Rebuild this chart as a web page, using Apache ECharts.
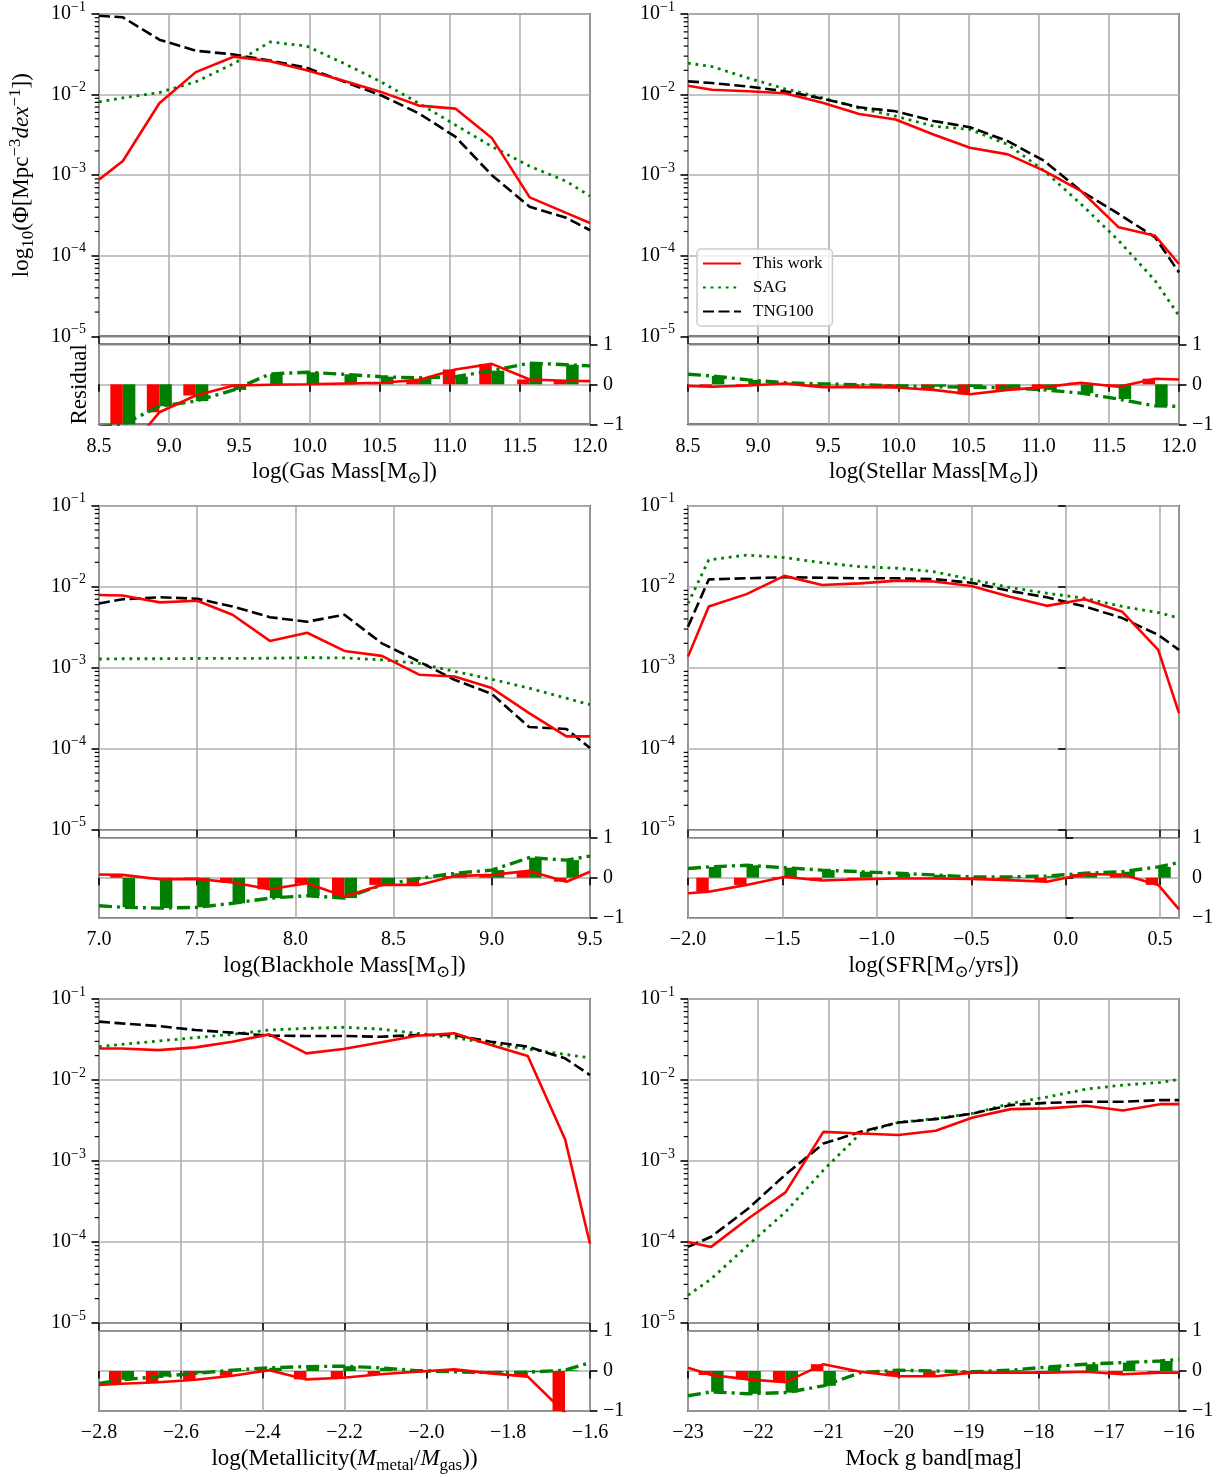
<!DOCTYPE html>
<html>
<head>
<meta charset="utf-8">
<title>Distribution functions</title>
<script src="https://cdn.jsdelivr.net/npm/echarts@6/dist/echarts.min.js"></script>
<style>
  html, body { margin: 0; padding: 0; background: #fff; }
  #chart { width: 1227px; height: 1477px; }
</style>
</head>
<body>
<div id="chart"></div>
<script>
// values: x = bin centres (plus the axis ends), y = number density
// residual = log10(model / TNG100)

// gas mass
const gasX = [8.5, 8.67, 8.93, 9.19, 9.46, 9.72, 9.98, 10.25, 10.51, 10.78, 11.04, 11.30, 11.57, 11.83, 12.0]
const gasThisWork = [8.8e-4, 1.5e-3, 7.8e-3, 1.9e-2, 2.95e-2, 2.6e-2, 2.0e-2, 1.47e-2, 1.08e-2, 7.3e-3, 6.7e-3, 2.9e-3, 5.3e-4, 3.4e-4, 2.55e-4]
const gasSAG = [8.1e-3, 9.1e-3, 1.06e-2, 1.44e-2, 2.42e-2, 4.5e-2, 4.0e-2, 2.42e-2, 1.44e-2, 7.8e-3, 4.2e-3, 2.27e-3, 1.29e-3, 8.4e-4, 5.5e-4]
const gasTNG = [9.5e-2, 9.1e-2, 4.8e-2, 3.5e-2, 3.15e-2, 2.65e-2, 2.15e-2, 1.44e-2, 9.8e-3, 5.85e-3, 3.0e-3, 1.0e-3, 4.05e-4, 2.96e-4, 2.07e-4]
const gasResThis = [-2.0, -1.8, -0.7, -0.28, -0.03, -0.01, 0.0, 0.02, 0.04, 0.11, 0.37, 0.51, 0.12, 0.09, 0.08]
const gasResSAG = [-1.07, -1.0, -0.55, -0.42, -0.14, 0.26, 0.3, 0.25, 0.19, 0.16, 0.19, 0.34, 0.53, 0.49, 0.46]
const gasTicks = [8.5, 9.0, 9.5, 10.0, 10.5, 11.0, 11.5, 12.0]

// stellar mass
const stellarX = [8.5, 8.67, 8.93, 9.19, 9.46, 9.72, 9.98, 10.25, 10.51, 10.78, 11.04, 11.30, 11.57, 11.83, 12.0]
const stellarThisWork = [1.29e-2, 1.15e-2, 1.1e-2, 1.04e-2, 7.9e-3, 5.75e-3, 4.9e-3, 3.2e-3, 2.19e-3, 1.81e-3, 1.13e-3, 6.4e-4, 2.25e-4, 1.77e-4, 7.9e-5]
const stellarSAG = [2.45e-2, 2.23e-2, 1.6e-2, 1.18e-2, 9.1e-3, 6.8e-3, 5.4e-3, 4.05e-3, 3.7e-3, 2.4e-3, 1.13e-3, 4.4e-4, 1.54e-4, 4.9e-5, 1.8e-5]
const stellarTNG = [1.46e-2, 1.39e-2, 1.26e-2, 1.1e-2, 8.9e-3, 6.95e-3, 6.2e-3, 4.7e-3, 3.94e-3, 2.64e-3, 1.5e-3, 6.4e-4, 3.3e-4, 1.69e-4, 6.2e-5]
const stellarResThis = [-0.04, -0.06, -0.03, 0.02, -0.07, -0.07, -0.08, -0.14, -0.25, -0.14, -0.07, 0.04, -0.06, 0.14, 0.12]
const stellarResSAG = [0.25, 0.21, 0.11, 0.04, 0.01, -0.01, -0.04, -0.06, -0.07, -0.09, -0.14, -0.22, -0.37, -0.54, -0.55]
const stellarTicks = [8.5, 9.0, 9.5, 10.0, 10.5, 11.0, 11.5, 12.0]

// blackhole mass
const bhX = [7.0, 7.12, 7.31, 7.50, 7.68, 7.87, 8.06, 8.25, 8.44, 8.63, 8.81, 9.00, 9.19, 9.38, 9.5]
const bhThisWork = [7.9e-3, 7.8e-3, 6.4e-3, 6.7e-3, 4.5e-3, 2.14e-3, 2.7e-3, 1.61e-3, 1.4e-3, 8.2e-4, 7.8e-4, 5.6e-4, 2.75e-4, 1.42e-4, 1.42e-4]
const bhSAG = [1.28e-3, 1.29e-3, 1.29e-3, 1.3e-3, 1.3e-3, 1.31e-3, 1.33e-3, 1.32e-3, 1.25e-3, 1.13e-3, 9.0e-4, 7.2e-4, 5.6e-4, 4.2e-4, 3.5e-4]
const bhTNG = [6.2e-3, 7.0e-3, 7.4e-3, 7.1e-3, 5.7e-3, 4.2e-3, 3.7e-3, 4.5e-3, 2.0e-3, 1.19e-3, 7.1e-4, 4.75e-4, 1.85e-4, 1.75e-4, 1.02e-4]
const bhResThis = [0.08, 0.07, -0.04, -0.03, -0.12, -0.29, -0.14, -0.47, -0.18, -0.18, 0.04, 0.07, 0.17, -0.1, 0.15]
const bhResSAG = [-0.7, -0.74, -0.76, -0.74, -0.64, -0.51, -0.45, -0.51, -0.18, -0.02, 0.11, 0.19, 0.5, 0.44, 0.54]
const bhTicks = [7.0, 7.5, 8.0, 8.5, 9.0, 9.5]

// star formation rate
const sfrX = [-2.0, -1.89, -1.69, -1.49, -1.29, -1.09, -0.89, -0.70, -0.50, -0.30, -0.10, 0.10, 0.30, 0.49, 0.6]
const sfrThisWork = [1.37e-3, 5.7e-3, 8.1e-3, 1.36e-2, 1.05e-2, 1.1e-2, 1.19e-2, 1.16e-2, 1.02e-2, 7.55e-3, 5.8e-3, 7.0e-3, 4.9e-3, 1.66e-3, 2.75e-4]
const sfrSAG = [6.2e-3, 2.14e-2, 2.46e-2, 2.29e-2, 1.98e-2, 1.77e-2, 1.69e-2, 1.53e-2, 1.23e-2, 9.8e-3, 8.3e-3, 7.2e-3, 5.7e-3, 4.8e-3, 4.1e-3]
const sfrTNG = [3.2e-3, 1.23e-2, 1.27e-2, 1.31e-2, 1.29e-2, 1.27e-2, 1.27e-2, 1.24e-2, 1.12e-2, 8.9e-3, 7.4e-3, 5.7e-3, 4.1e-3, 2.54e-3, 1.66e-3]
const sfrResThis = [-0.39, -0.35, -0.18, 0.02, -0.07, -0.04, -0.02, -0.02, -0.03, -0.06, -0.1, 0.09, 0.08, -0.18, -0.79]
const sfrResSAG = [0.23, 0.27, 0.31, 0.25, 0.19, 0.15, 0.11, 0.07, 0.02, 0.02, 0.04, 0.11, 0.15, 0.27, 0.38]
const sfrTicks = [-2.0, -1.5, -1.0, -0.5, 0.0, 0.5]

// metallicity
const metalX = [-2.8, -2.745, -2.655, -2.564, -2.474, -2.384, -2.293, -2.203, -2.113, -2.023, -1.932, -1.842, -1.752, -1.661, -1.6]
const metalThisWork = [2.45e-2, 2.45e-2, 2.34e-2, 2.53e-2, 2.97e-2, 3.66e-2, 2.13e-2, 2.41e-2, 2.91e-2, 3.52e-2, 3.77e-2, 2.7e-2, 1.98e-2, 1.86e-3, 9.5e-5]
const metalSAG = [2.58e-2, 2.75e-2, 3.03e-2, 3.33e-2, 3.66e-2, 4.14e-2, 4.34e-2, 4.47e-2, 4.26e-2, 3.77e-2, 3.33e-2, 2.83e-2, 2.41e-2, 2.07e-2, 1.88e-2]
const metalTNG = [5.25e-2, 5.0e-2, 4.64e-2, 4.14e-2, 3.84e-2, 3.52e-2, 3.5e-2, 3.5e-2, 3.42e-2, 3.59e-2, 3.59e-2, 2.97e-2, 2.58e-2, 1.85e-2, 1.15e-2]
const metalResThis = [-0.35, -0.32, -0.28, -0.22, -0.12, 0.02, -0.21, -0.17, -0.08, -0.02, 0.04, -0.06, -0.14, -1.05, -2.1]
const metalResSAG = [-0.31, -0.22, -0.14, -0.06, 0.02, 0.08, 0.11, 0.12, 0.08, 0.01, -0.02, -0.04, -0.03, 0.02, 0.21]
const metalTicks = [-2.8, -2.6, -2.4, -2.2, -2.0, -1.8, -1.6]

// mock g band magnitude
const gbandX = [-23, -22.67, -22.14, -21.61, -21.07, -20.54, -20.0, -19.47, -18.94, -18.40, -17.87, -17.33, -16.8, -16.27, -16]
const gbandThisWork = [1.0e-4, 8.7e-5, 1.95e-4, 4.1e-4, 2.29e-3, 2.19e-3, 2.09e-3, 2.36e-3, 3.45e-3, 4.37e-3, 4.46e-3, 4.81e-3, 4.21e-3, 5.03e-3, 5.03e-3]
const gbandSAG = [2.2e-5, 3.5e-5, 9.2e-5, 2.35e-4, 7.7e-4, 2.19e-3, 2.99e-3, 3.35e-3, 3.86e-3, 5.14e-3, 6.2e-3, 7.7e-3, 8.66e-3, 9.33e-3, 1.02e-2]
const gbandTNG = [8.7e-5, 1.16e-4, 2.59e-4, 6.8e-4, 1.64e-3, 2.29e-3, 2.99e-3, 3.29e-3, 3.86e-3, 4.9e-3, 5.23e-3, 5.38e-3, 5.38e-3, 5.65e-3, 5.65e-3]
const gbandResThis = [0.08, -0.1, -0.21, -0.28, 0.17, -0.02, -0.13, -0.13, -0.04, -0.04, -0.04, -0.02, -0.08, -0.04, -0.04]
const gbandResSAG = [-0.62, -0.52, -0.57, -0.54, -0.37, -0.04, 0.02, 0.0, -0.02, 0.02, 0.1, 0.17, 0.21, 0.25, 0.29]
const gbandTicks = [-23, -22, -21, -20, -19, -18, -17, -16]

const legendNames = ['This work', 'SAG', 'TNG100']

const FONT = "'Liberation Serif', 'DejaVu Serif', serif"
const RED = '#ff0000'
const GREEN = '#008000'
const GRIDLINE = '#b0b0b0'

const panels = [
  { x: gasX, thisWork: gasThisWork, sag: gasSAG, tng: gasTNG, resThis: gasResThis, resSAG: gasResSAG, ticks: gasTicks,
    min: 8.5, max: 12, interval: 0.5, digits: 1, col: 0, row: 0, title: 'log(Gas Mass[M{sub|⊙}])' },
  { x: stellarX, thisWork: stellarThisWork, sag: stellarSAG, tng: stellarTNG, resThis: stellarResThis, resSAG: stellarResSAG, ticks: stellarTicks,
    min: 8.5, max: 12, interval: 0.5, digits: 1, col: 1, row: 0, title: 'log(Stellar Mass[M{sub|⊙}])' },
  { x: bhX, thisWork: bhThisWork, sag: bhSAG, tng: bhTNG, resThis: bhResThis, resSAG: bhResSAG, ticks: bhTicks,
    min: 7, max: 9.5, interval: 0.5, digits: 1, col: 0, row: 1, title: 'log(Blackhole Mass[M{sub|⊙}])' },
  { x: sfrX, thisWork: sfrThisWork, sag: sfrSAG, tng: sfrTNG, resThis: sfrResThis, resSAG: sfrResSAG, ticks: sfrTicks,
    min: -2, max: 0.6, interval: 0.5, digits: 1, col: 1, row: 1, title: 'log(SFR[M{sub|⊙}/yrs])' },
  { x: metalX, thisWork: metalThisWork, sag: metalSAG, tng: metalTNG, resThis: metalResThis, resSAG: metalResSAG, ticks: metalTicks,
    min: -2.8, max: -1.6, interval: 0.2, digits: 1, col: 0, row: 2, title: 'log(Metallicity({it|M}{sub|metal}/{it|M}{sub|gas}))' },
  { x: gbandX, thisWork: gbandThisWork, sag: gbandSAG, tng: gbandTNG, resThis: gbandResThis, resSAG: gbandResSAG, ticks: gbandTicks,
    min: -23, max: -16, interval: 1, digits: 0, col: 1, row: 2, title: 'Mock g band[mag]' }
]

// layout of the 3x2 figure
const colLeft = [99, 688]
const rowTop = [12.3, 505.7, 999]
const plotW = 491
const mainH = 324
const resOffset = 332
const resH = 80

// log-axis minor tick positions (axis decoration)
const minorTicks = []
for (let e = -5; e < -1; e++) {
  for (let k = 2; k <= 9; k++) minorTicks.push(k * Math.pow(10, e))
}

const tickRich = {
  sup: { fontFamily: FONT, fontSize: 14, lineHeight: 14, verticalAlign: 'top', color: '#000' }
}
const nameRich = {
  sup: { fontFamily: FONT, fontSize: 17, lineHeight: 17, verticalAlign: 'top', color: '#000' },
  sub: { fontFamily: FONT, fontSize: 17, lineHeight: 17, verticalAlign: 'bottom', color: '#000' },
  it: { fontFamily: FONT, fontSize: 23, lineHeight: 30, fontStyle: 'italic', color: '#000' }
}

const tickStyle = { show: true, inside: false, length: 7.5, lineStyle: { color: '#000', width: 1.6 } }
const splitStyle = { show: true, lineStyle: { color: GRIDLINE, width: 1.6 } }
const minus = v => (v < -1e-9 ? '\u2212' : '')

const grid = []
const xAxis = []
const yAxis = []
const series = []

panels.forEach((p, i) => {
  const left = colLeft[p.col]
  const top = rowTop[p.row]
  const mi = 2 * i
  const ri = 2 * i + 1
  const lastTick = p.ticks[p.ticks.length - 1]

  grid.push({ left, top, width: plotW, height: mainH, show: true, borderColor: '#000', borderWidth: 1.6 })
  grid.push({ left, top: top + resOffset, width: plotW, height: resH, show: true, borderColor: '#000', borderWidth: 1.6 })

  xAxis.push({
    type: 'value', gridIndex: mi, min: p.min, max: p.max, interval: p.interval,
    axisLine: { show: false }, axisTick: tickStyle, axisLabel: { show: false }, splitLine: splitStyle
  })
  xAxis.push({
    type: 'value', gridIndex: ri, min: p.min, max: p.max, interval: p.interval,
    axisLine: { show: false }, axisTick: tickStyle, splitLine: splitStyle,
    axisLabel: {
      color: '#000', fontFamily: FONT, fontSize: 20, lineHeight: 20, margin: 12,
      showMinLabel: true, showMaxLabel: Math.abs(lastTick - p.max) < 1e-9,
      formatter: v => minus(v) + Math.abs(v).toFixed(p.digits)
    },
    name: p.title, nameLocation: 'middle', nameGap: 27,
    nameTextStyle: { color: '#000', fontFamily: FONT, fontSize: 23, lineHeight: 30, rich: nameRich }
  })

  const mainY = {
    type: 'log', logBase: 10, gridIndex: mi, min: 1e-5, max: 1e-1, splitNumber: 4,
    axisLine: { show: false }, axisTick: tickStyle, splitLine: splitStyle,
    axisLabel: {
      color: '#000', fontFamily: FONT, fontSize: 20, lineHeight: 28, margin: 13, rich: tickRich,
      formatter: v => '10{sup|\u2212' + Math.abs(Math.round(Math.log10(v))) + '}'
    }
  }
  if (i === 0) {
    Object.assign(mainY, {
      name: 'log{sub|10}(\u03a6[Mpc{sup|\u22123}{it|dex}{sup|\u22121}])',
      nameLocation: 'middle', nameRotate: 90, nameGap: 62,
      nameTextStyle: { color: '#000', fontFamily: FONT, fontSize: 23, lineHeight: 30, rich: nameRich }
    })
  }
  yAxis.push(mainY)
  yAxis.push({
    type: 'value', gridIndex: ri, position: 'right', min: -1, max: 1, interval: 1,
    axisLine: { show: false }, axisTick: tickStyle, splitLine: splitStyle,
    axisLabel: {
      color: '#000', fontFamily: FONT, fontSize: 20, lineHeight: 20, margin: 13,
      formatter: v => minus(v) + Math.abs(v)
    }
  })

  // main panel: number densities
  series.push({
    name: 'SAG', type: 'line', xAxisIndex: mi, yAxisIndex: mi, symbol: 'none',
    data: p.x.map((x, j) => [x, p.sag[j]]),
    itemStyle: { color: GREEN }, lineStyle: { color: GREEN, width: 2.8, type: [2.8, 4.8] }
  })
  series.push({
    name: 'TNG100', type: 'line', xAxisIndex: mi, yAxisIndex: mi, symbol: 'none',
    data: p.x.map((x, j) => [x, p.tng[j]]),
    itemStyle: { color: '#000' }, lineStyle: { color: '#000', width: 2.6, type: [11, 4.5] }
  })
  series.push({
    name: 'This work', type: 'line', xAxisIndex: mi, yAxisIndex: mi, symbol: 'none',
    data: p.x.map((x, j) => [x, p.thisWork[j]]),
    itemStyle: { color: RED }, lineStyle: { color: RED, width: 2.6 }
  })
  series.push({
    type: 'custom', xAxisIndex: mi, yAxisIndex: mi, silent: true, clip: false,
    data: minorTicks.map(v => [p.min, v]),
    renderItem: (params, api) => {
      const pt = api.coord([api.value(0), api.value(1)])
      return {
        type: 'line',
        shape: { x1: pt[0] - 4.3, y1: pt[1], x2: pt[0], y2: pt[1] },
        style: { stroke: '#000', lineWidth: 1.2 }
      }
    }
  })

  // residual panel: bars at bin centres + lines
  series.push({
    name: 'res-this-bar', type: 'bar', xAxisIndex: ri, yAxisIndex: ri, barWidth: 12.5, barGap: '0%', clip: true,
    data: p.x.slice(1, -1).map((x, j) => [x, p.resThis[j + 1]]),
    itemStyle: { color: RED }
  })
  series.push({
    name: 'res-sag-bar', type: 'bar', xAxisIndex: ri, yAxisIndex: ri, barWidth: 12.5, barGap: '0%', clip: true,
    data: p.x.slice(1, -1).map((x, j) => [x, p.resSAG[j + 1]]),
    itemStyle: { color: GREEN }
  })
  series.push({
    name: 'res-sag-line', type: 'line', xAxisIndex: ri, yAxisIndex: ri, symbol: 'none',
    data: p.x.map((x, j) => [x, p.resSAG[j]]),
    lineStyle: { color: GREEN, width: 3.4, type: [13, 5, 3, 5] }
  })
  series.push({
    name: 'res-this-line', type: 'line', xAxisIndex: ri, yAxisIndex: ri, symbol: 'none',
    data: p.x.map((x, j) => [x, p.resThis[j]]),
    lineStyle: { color: RED, width: 2.6 }
  })
})

// left-hand label of the first residual panel
yAxis.push({
  type: 'value', gridIndex: 1, position: 'left', min: -1, max: 1,
  axisLine: { show: false }, axisTick: { show: false }, axisLabel: { show: false }, splitLine: { show: false },
  name: 'Residual', nameLocation: 'middle', nameRotate: 90, nameGap: 5,
  nameTextStyle: { color: '#000', fontFamily: FONT, fontSize: 23, lineHeight: 28 }
})

const chart = echarts.init(document.getElementById('chart'), null, { renderer: 'canvas' })
chart.setOption({
  animation: false,
  backgroundColor: '#fff',
  textStyle: { fontFamily: FONT },
  legend: {
    data: legendNames, orient: 'vertical', left: 697, top: 249,
    itemWidth: 38, itemHeight: 14, itemGap: 7, padding: [6, 10, 6, 5],
    backgroundColor: 'rgba(255,255,255,0.8)', borderColor: '#cccccc', borderWidth: 1.5, borderRadius: 4,
    selectedMode: false,
    itemStyle: { opacity: 0 },
    textStyle: { color: '#000', fontFamily: FONT, fontSize: 17, lineHeight: 14, padding: [0, 0, 0, 7] }
  },
  grid, xAxis, yAxis, series
})
</script>
</body>
</html>
